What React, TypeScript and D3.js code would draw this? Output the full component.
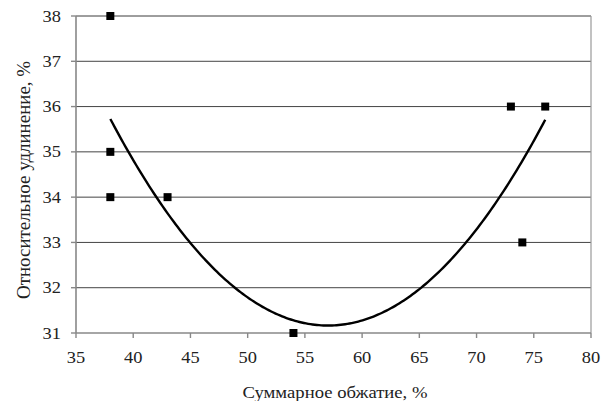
import React from "react";
import * as d3 from "d3";

// Measured points: total reduction (%) vs relative elongation (%)
const reduction = [38, 38, 38, 43, 54, 73, 74, 76];
const elongation = [38, 35, 34, 34, 31, 36, 33, 36];

const xTicks = [35, 40, 45, 50, 55, 60, 65, 70, 75, 80];
const yTicks = [31, 32, 33, 34, 35, 36, 37, 38];

const xTitle = "Суммарное обжатие, %";
const yTitle = "Относительное удлинение, %";

const W = 607;
const H = 401;
const M = { left: 76, right: 16, top: 16, bottom: 68 };
const TEXT_COLOR = "#222";
const textStyle: React.CSSProperties = {
  fontFamily: '"Liberation Serif"',
  fontSize: "16px",
};

// Least-squares fit of a second-order polynomial trendline
function quadFit(xs: number[], ys: number[]) {
  const n = xs.length;
  const mx = d3.mean(xs) as number;
  const u = xs.map((x) => x - mx);
  const s = (p: number) => d3.sum(u, (v) => Math.pow(v, p));
  const sy = (p: number) => d3.sum(u, (v, i) => Math.pow(v, p) * ys[i]);
  const m = [
    [n, s(1), s(2), sy(0)],
    [s(1), s(2), s(3), sy(1)],
    [s(2), s(3), s(4), sy(2)],
  ];
  for (let i = 0; i < 3; i++) {
    for (let k = i + 1; k < 3; k++) {
      const f = m[k][i] / m[i][i];
      for (let j = i; j < 4; j++) m[k][j] -= f * m[i][j];
    }
  }
  const c = [0, 0, 0];
  for (let i = 2; i >= 0; i--) {
    let v = m[i][3];
    for (let j = i + 1; j < 3; j++) v -= m[i][j] * c[j];
    c[i] = v / m[i][i];
  }
  return (x: number) => c[0] + c[1] * (x - mx) + c[2] * (x - mx) ** 2;
}

export default function App() {
  const x = d3.scaleLinear().domain([35, 80]).range([M.left, W - M.right]);
  const y = d3.scaleLinear().domain([31, 38]).range([H - M.bottom, M.top]);
  const fit = quadFit(reduction, elongation);
  const [x0, x1] = d3.extent(reduction) as [number, number];
  const trendX = d3.range(0, 201).map((i) => x0 + ((x1 - x0) * i) / 200);
  const line = d3
    .line<number>()
    .x((d) => x(d))
    .y((d) => y(fit(d)));

  const bottom = H - M.bottom;
  const right = W - M.right;
  const labelScale = 1.15;

  return (
    <svg
      width={W}
      height={H}
      style={{ position: "absolute", left: 0, top: 0, background: "#fff" }}
    >
      {/* horizontal gridlines */}
      {yTicks.slice(1).map((t) => (
        <line
          key={"g" + t}
          x1={M.left}
          x2={right}
          y1={y(t)}
          y2={y(t)}
          stroke="#444"
          strokeWidth={1}
        />
      ))}
      {/* plot frame */}
      <line x1={M.left} x2={right} y1={M.top} y2={M.top} stroke="#999" strokeWidth={1.2} />
      <line x1={right} x2={right} y1={M.top} y2={bottom} stroke="#999" strokeWidth={1.2} />
      <line x1={M.left} x2={M.left} y1={M.top} y2={bottom} stroke="#888" strokeWidth={1.6} />
      <line x1={M.left} x2={right} y1={bottom} y2={bottom} stroke="#888" strokeWidth={1.6} />
      {/* axis ticks and labels */}
      {xTicks.map((t) => (
        <g key={"x" + t}>
          <line x1={x(t)} x2={x(t)} y1={bottom} y2={bottom + 5} stroke="#888" strokeWidth={1.4} />
          <text
            transform={`translate(${x(t)}, ${bottom + 30}) scale(${labelScale}, 1)`}
            textAnchor="middle"
            fill={TEXT_COLOR}
            style={textStyle}
          >
            {t}
          </text>
        </g>
      ))}
      {yTicks.map((t) => (
        <g key={"y" + t}>
          <line x1={M.left - 5} x2={M.left} y1={y(t)} y2={y(t)} stroke="#888" strokeWidth={1.4} />
          <text
            transform={`translate(${M.left - 15}, ${y(t) + 5.5}) scale(${labelScale}, 1)`}
            textAnchor="end"
            fill={TEXT_COLOR}
            style={textStyle}
          >
            {t}
          </text>
        </g>
      ))}
      {/* trend curve */}
      <path d={line(trendX) as string} fill="none" stroke="#000" strokeWidth={2.4} />
      {/* data markers */}
      {reduction.map((r, i) => (
        <rect
          key={"p" + i}
          x={x(r) - 4}
          y={y(elongation[i]) - 4}
          width={8}
          height={8}
          fill="#000"
        />
      ))}
      {/* axis titles */}
      <text
        x={335}
        y={398}
        textAnchor="middle"
        fill={TEXT_COLOR}
        style={textStyle}
        textLength={185}
        lengthAdjust="spacingAndGlyphs"
      >
        {xTitle}
      </text>
      <g transform="translate(30, 180) rotate(-90) scale(1, 1.2)">
        <text
          x={0}
          y={0}
          textAnchor="middle"
          fill={TEXT_COLOR}
          style={textStyle}
          textLength={238}
          lengthAdjust="spacingAndGlyphs"
        >
          {yTitle}
        </text>
      </g>
    </svg>
  );
}
